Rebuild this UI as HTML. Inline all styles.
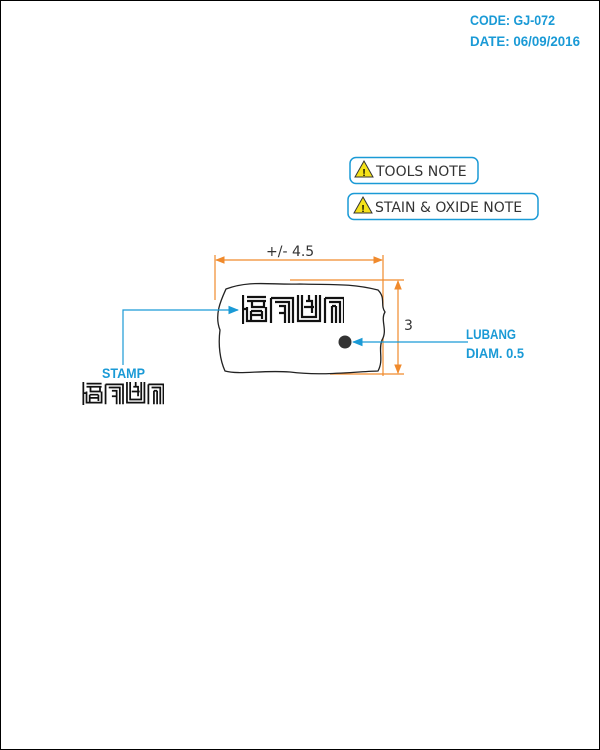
<!DOCTYPE html>
<html><head><meta charset="utf-8"><style>
html,body{margin:0;padding:0;background:#fff}
svg{display:block}
.blue{fill:#1a9ad6;font-family:"Liberation Sans",sans-serif;font-weight:bold;font-size:14px}
.gray{fill:#333;font-family:"DejaVu Sans","Liberation Sans",sans-serif;font-size:14px}
</style></head><body>
<svg width="600" height="750" viewBox="0 0 600 750">
<defs>
<symbol id="stamp" viewBox="0 0 102 29">
<g fill="none" stroke="#111" stroke-width="2.2">
<path d="M1 0V29M1 14H6M5 2H24M5 6H24M10 6V12H22V6M5 12V26H24V12M9 16H20M9 20H20M9 16V26M20 16V24"/>
<path d="M29 3H51V28M29 3V28M33 7H47V28M37 11H43V28M37 18H43"/>
<path d="M56 0V26H78V0M60 0V22H74V0M64 6H70V18M67 0V6M62 12H72"/>
<path d="M83 3H102V28M83 3V28M87 7H98V28M90 11V28M94 11V28M90 11H94"/>
</g>
</symbol>
<marker id="oa" viewBox="0 0 10 10" refX="9" refY="5" markerWidth="8" markerHeight="8" orient="auto-start-reverse"><path d="M0 1L10 5L0 9z" fill="#f08a2c"/></marker>
<marker id="ba" viewBox="0 0 10 10" refX="9" refY="5" markerWidth="9" markerHeight="9" orient="auto"><path d="M0 1L10 5L0 9z" fill="#1a9ad6"/></marker>
</defs>
<rect x="0.5" y="0.5" width="599" height="749" fill="#fff" stroke="#000"/>
<text x="470" y="25" class="blue" textLength="85" lengthAdjust="spacingAndGlyphs">CODE: GJ-072</text>
<text x="470" y="46" class="blue" textLength="110" lengthAdjust="spacingAndGlyphs">DATE: 06/09/2016</text>

<g>
<rect x="350" y="157.5" width="128" height="26" rx="6" fill="#fff" stroke="#1a9ad6" stroke-width="1.5"/>
<path d="M364 161L373 177H355z" fill="#f5e21a" stroke="#333"/><text x="364" y="176" font-size="10" text-anchor="middle" font-family="Liberation Sans" font-weight="bold">!</text>
<text x="376" y="176" class="gray">TOOLS NOTE</text>
</g>
<g>
<rect x="348" y="193.5" width="190" height="26" rx="6" fill="#fff" stroke="#1a9ad6" stroke-width="1.5"/>
<path d="M363 197L372 213H354z" fill="#f5e21a" stroke="#333"/><text x="363" y="212" font-size="10" text-anchor="middle" font-family="Liberation Sans" font-weight="bold">!</text>
<text x="375" y="212" class="gray">STAIN &amp; OXIDE NOTE</text>
</g>

<g stroke="#f08a2c" stroke-width="1.2" fill="none">
<line x1="215" y1="255" x2="215" y2="300"/><line x1="383" y1="255" x2="383" y2="376"/>
<line x1="216" y1="260" x2="382" y2="260" marker-start="url(#oa)" marker-end="url(#oa)"/>
<line x1="290" y1="280" x2="404" y2="280"/><line x1="330" y1="374" x2="404" y2="374"/>
<line x1="398" y1="281" x2="398" y2="373" marker-start="url(#oa)" marker-end="url(#oa)"/>
</g>
<text x="266" y="256" class="gray">+/- 4.5</text>
<text x="404" y="330" class="gray">3</text>

<path d="M226 289C250 280 270 285 300 284C330 285 350 283 378 290C386 298 380 305 385 312C380 320 388 330 382 340C378 350 384 360 378 371C350 372 320 376 290 372C260 370 240 375 225 371C220 360 218 345 220 330C214 315 221 300 226 289Z" fill="#fff" stroke="#222" stroke-width="1.3"/>
<use href="#stamp" x="242" y="295" width="102" height="29"/>
<circle cx="345" cy="342" r="6.5" fill="#333"/>

<polyline points="468,342 353,342" fill="none" stroke="#1a9ad6" stroke-width="1.2" marker-end="url(#ba)"/>
<text x="466" y="339" class="blue" textLength="50" lengthAdjust="spacingAndGlyphs">LUBANG</text>
<text x="466" y="358" class="blue" textLength="58" lengthAdjust="spacingAndGlyphs">DIAM. 0.5</text>

<polyline points="123,365 123,310 238,310" fill="none" stroke="#1a9ad6" stroke-width="1.2" marker-end="url(#ba)"/>
<text x="102" y="378" class="blue" textLength="43" lengthAdjust="spacingAndGlyphs">STAMP</text>
<use href="#stamp" x="82" y="382" width="82" height="23"/>
</svg>
</body></html>
